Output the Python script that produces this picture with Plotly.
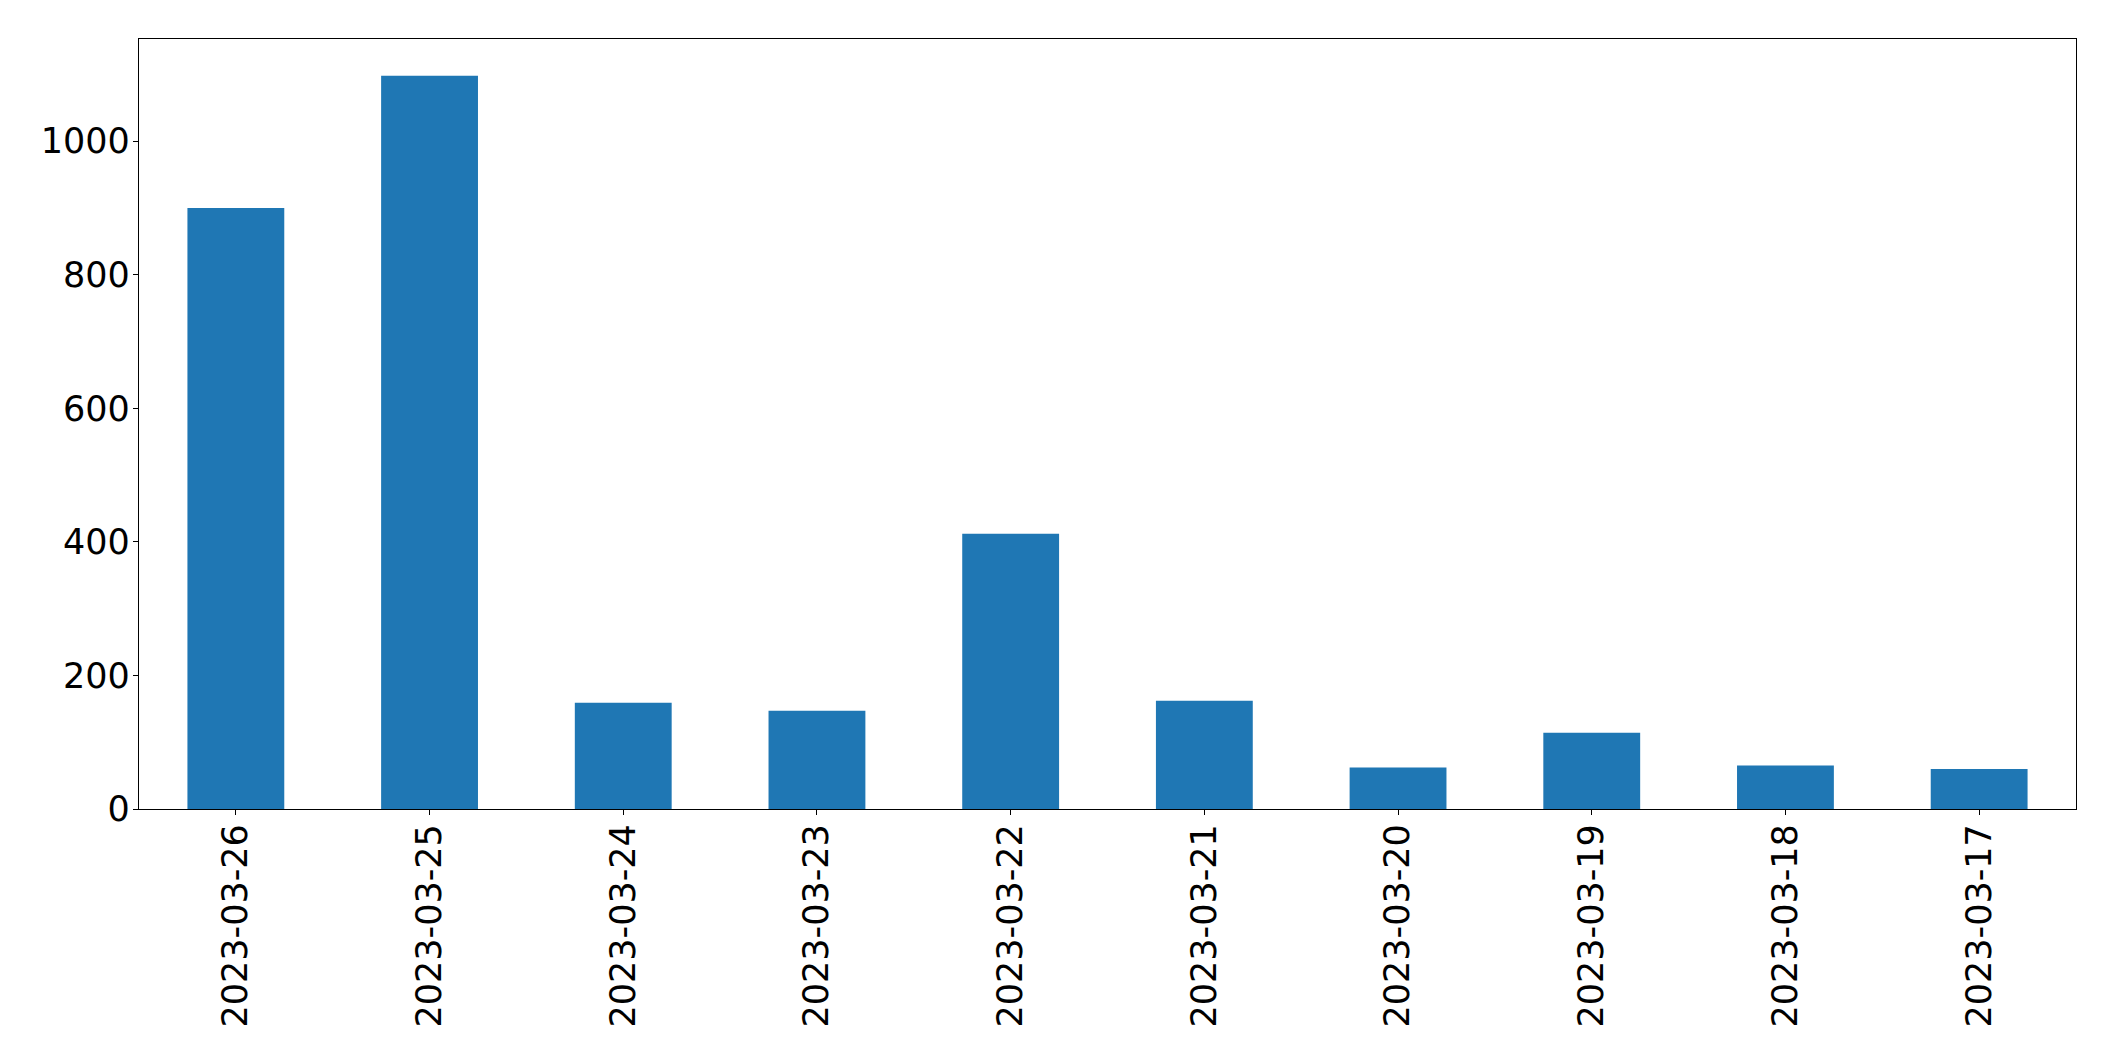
import plotly.graph_objects as go

dates = ["2023-03-26", "2023-03-25", "2023-03-24", "2023-03-23", "2023-03-22",
         "2023-03-21", "2023-03-20", "2023-03-19", "2023-03-18", "2023-03-17"]
counts = [900, 1098, 159, 147, 412, 162, 62, 114, 65, 60]

y_ticks = [0, 200, 400, 600, 800, 1000]

fig = go.Figure(go.Bar(x=dates, y=counts, width=0.5, marker=dict(color="#1f77b4", line=dict(width=0))))

font = dict(family="DejaVu Sans", size=35, color="black")
fig.update_layout(
    width=2115, height=1061,
    margin=dict(l=139, r=39, t=39, b=252),
    paper_bgcolor="white", plot_bgcolor="white",
    showlegend=False,
    font=font,
)
fig.update_xaxes(
    type="category", range=[-0.5, 9.5],
    tickangle=-90, tickfont=font,
    ticks="outside", ticklen=5, tickwidth=1.3, tickcolor="black",
    showline=True, linecolor="black", linewidth=1.3, mirror=True,
    showgrid=False, zeroline=False, ticklabelstandoff=-5,
)
fig.update_yaxes(
    range=[0, 1153], tickvals=y_ticks, ticktext=[str(v) for v in y_ticks],
    tickfont=font,
    ticks="outside", ticklen=5, tickwidth=1.3, tickcolor="black",
    showline=True, linecolor="black", linewidth=1.3, mirror=True,
    showgrid=False, zeroline=False, ticklabelstandoff=-4,
)
fig.write_html("out.html")
